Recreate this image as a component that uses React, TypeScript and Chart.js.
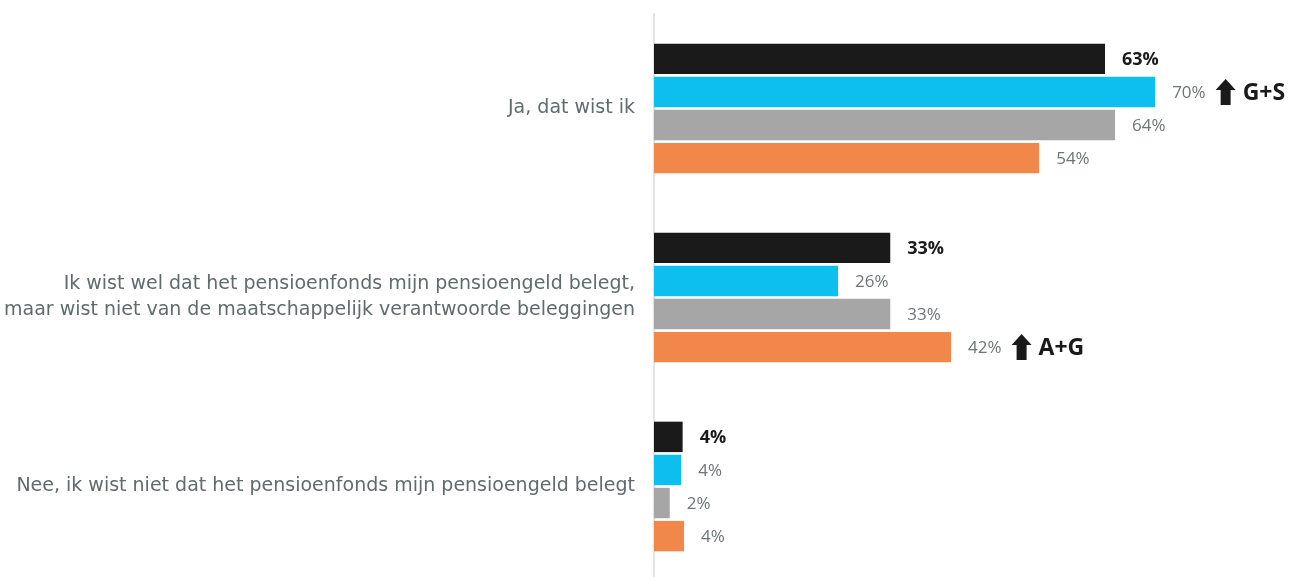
import React, { useEffect, useRef } from "react";
import { Chart, registerables } from "chart.js";

Chart.register(...registerables);

const categories: string[][] = [
  ["Ja, dat wist ik"],
  [
    "Ik wist wel dat het pensioenfonds mijn pensioengeld belegt,",
    "maar wist niet van de maatschappelijk verantwoorde beleggingen",
  ],
  ["Nee, ik wist niet dat het pensioenfonds mijn pensioengeld belegt"],
];

const seriesNames = ["Totaal", "A", "G", "S"];
const totaal = [63, 33, 4];
const groepA = [70, 25.7, 3.8];
const groepG = [64.4, 33, 2.2];
const groepS = [53.8, 41.5, 4.2];
const notesA = ["G+S", "", ""];
const notesS = ["", "A+G", ""];

const colors = ["#1a1a1a", "#0dbfee", "#a6a6a6", "#f2874a"];
const FONT = "'Open Sans', sans-serif";
const CAT_FONT = "'DejaVu Sans', sans-serif";

const labelPlugin = {
  id: "valueLabels",
  afterDatasetsDraw(chart: any) {
    const ctx = chart.ctx;
    const notes = [null, notesA, null, notesS];
    chart.data.datasets.forEach((ds: any, di: number) => {
      const meta = chart.getDatasetMeta(di);
      meta.data.forEach((bar: any, i: number) => {
        const v = ds.data[i];
        const txt = Math.round(v) + "%";
        ctx.save();
        ctx.textBaseline = "middle";
        ctx.textAlign = "left";
        if (di === 0) {
          ctx.font = `bold 18px ${FONT}`;
          ctx.fillStyle = "#1a1a1a";
        } else {
          ctx.font = `17px ${FONT}`;
          ctx.fillStyle = "#6d7577";
        }
        const x = bar.x + 17;
        const y = bar.y + 1;
        ctx.fillText(txt, x, y);
        const w = ctx.measureText(txt).width;
        const note = notes[di] ? (notes[di] as string[])[i] : "";
        if (note) {
          const ax = x + w + 10;
          const top = bar.y - 13;
          const bot = bar.y + 13;
          ctx.fillStyle = "#1a1a1a";
          ctx.beginPath();
          ctx.moveTo(ax + 10, top);
          ctx.lineTo(ax + 20, top + 11);
          ctx.lineTo(ax + 15, top + 11);
          ctx.lineTo(ax + 15, bot);
          ctx.lineTo(ax + 5, bot);
          ctx.lineTo(ax + 5, top + 11);
          ctx.lineTo(ax, top + 11);
          ctx.closePath();
          ctx.fill();
          ctx.font = `bold 23px ${FONT}`;
          ctx.fillText(note, ax + 27, y);
        }
        ctx.restore();
      });
    });
  },
};

export default function App() {
  const ref = useRef<HTMLCanvasElement>(null);
  useEffect(() => {
    if (!ref.current) return;
    const values = [totaal, groepA, groepG, groepS];
    const chart = new Chart(ref.current, {
      type: "bar",
      data: {
        labels: categories,
        datasets: values.map((d, i) => ({
          label: seriesNames[i],
          data: d,
          backgroundColor: colors[i],
          borderWidth: 0,
          categoryPercentage: 0.7,
          barPercentage: 0.92,
        })),
      },
      options: {
        indexAxis: "y",
        animation: false,
        responsive: true,
        maintainAspectRatio: false,
        layout: { padding: { top: 14, right: 5, left: 0, bottom: 0 } },
        plugins: { legend: { display: false }, tooltip: { enabled: false } },
        scales: {
          x: { display: false, min: 0, max: 88 },
          y: {
            afterFit(scale: any) {
              scale.width = 654;
              scale.paddingTop = 0;
              scale.paddingBottom = 0;
            },
            grid: { display: false },
            border: { display: true, color: "#e3e3e3", width: 2 },
            ticks: {
              padding: 11,
              color: "#5f6b6c",
              font: { family: CAT_FONT, size: 19, lineHeight: 1.37 },
            },
          },
        },
      },
      plugins: [labelPlugin],
    } as any);
    return () => chart.destroy();
  }, []);
  return (
    <div
      style={{
        position: "absolute",
        left: 0,
        top: 0,
        width: 1289,
        height: 577,
        overflow: "hidden",
      }}
    >
      <div style={{ position: "relative", width: 1289, height: 581 }}>
        <canvas ref={ref} />
      </div>
    </div>
  );
}
